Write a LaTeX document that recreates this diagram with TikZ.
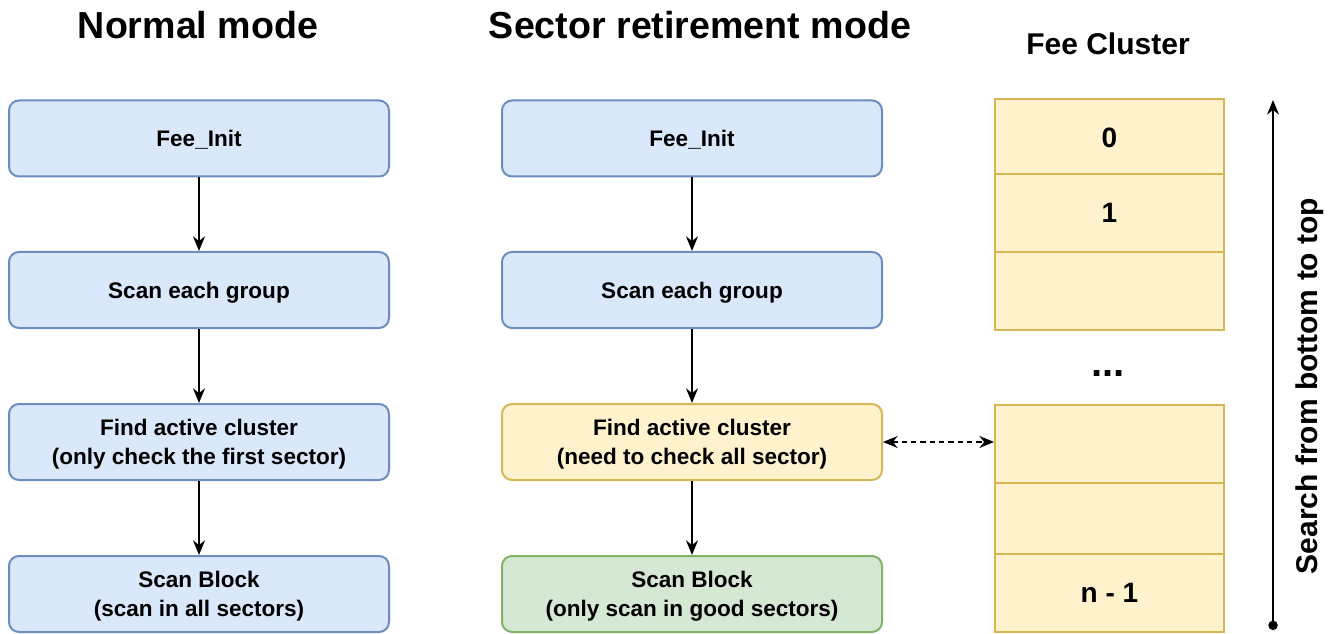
\documentclass[tikz,border=0pt]{standalone}
\usepackage{fontspec}
\setmainfont{Liberation Sans}
\usetikzlibrary{arrows.meta}
\definecolor{bfill}{HTML}{DAE8FC}\definecolor{bdraw}{HTML}{6C8EBF}
\definecolor{yfill}{HTML}{FFF2CC}\definecolor{ydraw}{HTML}{D6B656}
\definecolor{gfill}{HTML}{D5E8D4}\definecolor{gdraw}{HTML}{82B366}
\tikzset{
  flowbox/.style={rectangle, rounded corners=7.5pt, line width=1.5pt, minimum width=285pt, minimum height=57pt, inner sep=0pt, text depth=0pt, align=center, font=\fontsize{16.9}{21.75}\selectfont\bfseries},
  bluebox/.style={flowbox, fill=bfill, draw=bdraw},
  yellowbox/.style={flowbox, fill=yfill, draw=ydraw},
  greenbox/.style={flowbox, fill=gfill, draw=gdraw},
  cell/.style={rectangle, fill=yfill, draw=ydraw, line width=1.5pt, minimum width=171.75pt, inner sep=0pt, text depth=0pt, font=\fontsize{21}{24}\selectfont\bfseries},
  flow/.style={-{Stealth[length=11pt,width=9pt]}, line width=1.2pt},
  title/.style={font=\fontsize{28.2}{32}\selectfont\bfseries},
  subtitle/.style={font=\fontsize{22.5}{26}\selectfont\bfseries},
}
\begin{document}
\begin{tikzpicture}[x=0.75pt,y=-0.75pt]
\useasboundingbox (0,0) rectangle (1344,634);
% titles
\node[title] (t1) at (198,25) {Normal mode};
\node[title] (t2) at (700,25) {Sector retirement mode};
\node[subtitle] (t3) at (1108,44) {Fee Cluster};
% normal mode
\node[bluebox] (n1) at (199,138.5) {Fee\_Init};
\node[bluebox] (n2) at (199,290) {Scan each group};
\node[bluebox] (n3) at (199,442) {Find active cluster\\(only check the first sector)};
\node[bluebox] (n4) at (199,594) {Scan Block\\(scan in all sectors)};
\draw[flow] (n1) -- (n2);
\draw[flow] (n2) -- (n3);
\draw[flow] (n3) -- (n4);
% sector retirement mode
\node[bluebox] (s1) at (692,138.5) {Fee\_Init};
\node[bluebox] (s2) at (692,290) {Scan each group};
\node[yellowbox] (s3) at (692,442) {Find active cluster\\(need to check all sector)};
\node[greenbox] (s4) at (692,594) {Scan Block\\(only scan in good sectors)};
\draw[flow] (s1) -- (s2);
\draw[flow] (s2) -- (s3);
\draw[flow] (s3) -- (s4);
% fee cluster
\node[cell, minimum height=57pt] (c0) at (1109.5,137.5) {0};
\node[cell, minimum height=58.5pt] (c1) at (1109.5,213) {1};
\node[cell, minimum height=58.5pt] (c2) at (1109.5,291) {};
\node[font=\fontsize{30}{32}\selectfont\bfseries] (dots) at (1108,374) {...};
\node[cell, minimum height=58.5pt] (c3) at (1109.5,444) {};
\node[cell, minimum height=53.25pt] (c4) at (1109.5,518.5) {};
\node[cell, minimum height=58.5pt] (c5) at (1109.5,593) {n - 1};
\draw[{Stealth[length=11pt,width=9pt]}-{Stealth[length=11pt,width=9pt]}, line width=1.2pt, dashed, dash pattern=on 4pt off 3pt] (s3.east) -- (s3.east -| c3.west);
% search arrow
\coordinate (sb) at (1273,630);
\coordinate (st) at (1273,100);
\draw[{Circle[length=7pt]}-{Stealth[length=11pt,width=9pt]}, line width=1.2pt] (sb) -- (st);
\node[subtitle, rotate=90] (sl) at (1310,386) {Search from bottom to top};
\end{tikzpicture}
\end{document}
